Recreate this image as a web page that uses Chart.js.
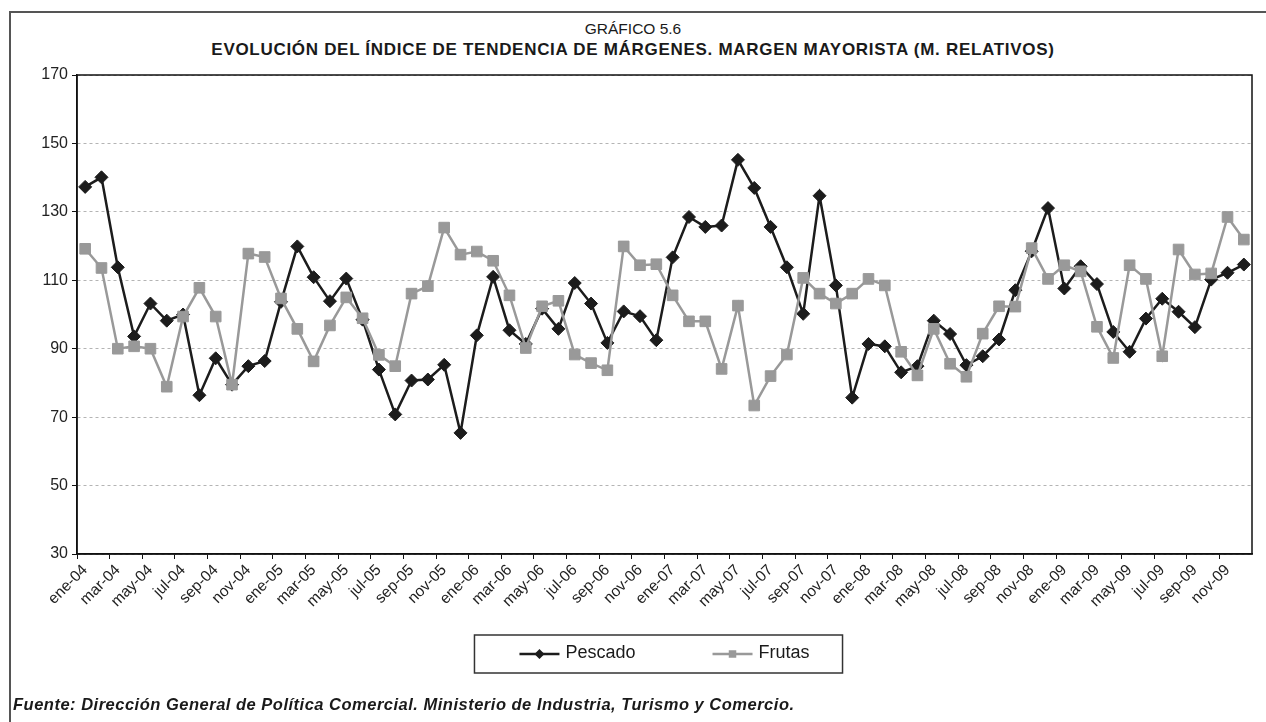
<!DOCTYPE html>
<html lang="es">
<head>
<meta charset="utf-8">
<title>Gráfico 5.6</title>
<script src="https://cdn.jsdelivr.net/npm/chart.js@4.4.1/dist/chart.umd.min.js"></script>
<style>
  html, body { margin: 0; padding: 0; background: #fff; }
  body { width: 1266px; height: 722px; position: relative; overflow: hidden; font-family: "Liberation Sans", Arial, sans-serif; color: #1a1a1a; }
  .marco { position: absolute; left: 9px; top: 11px; width: 1400px; height: 900px; border-left: 2px solid #555; border-top: 2px solid #555; }
  .grafico { position: absolute; top: 20px; left: 0; width: 1266px; text-align: center; font-size: 15.5px; }
  .titulo { position: absolute; top: 40px; left: 0; width: 1266px; text-align: center; font-size: 17px; font-weight: bold; letter-spacing: 0.7px; }
  .fuente { position: absolute; left: 13px; top: 695px; font-size: 16.5px; font-weight: bold; font-style: italic; letter-spacing: 0.5px; }
  #wrap { position: absolute; left: 0; top: 0; width: 1266px; height: 722px; }
</style>
</head>
<body>
<div class="marco"></div>
<div class="grafico">GRÁFICO 5.6</div>
<div class="titulo">EVOLUCIÓN DEL ÍNDICE DE TENDENCIA DE MÁRGENES. MARGEN MAYORISTA (M. RELATIVOS)</div>
<div id="wrap"><canvas id="grafico"></canvas></div>
<div class="fuente">Fuente: Dirección General de Política Comercial. Ministerio de Industria, Turismo y Comercio.</div>
<script>
// meses y años del eje horizontal
const meses = ["ene", "feb", "mar", "abr", "may", "jun", "jul", "ago", "sep", "oct", "nov", "dic"];
const anios = ["04", "05", "06", "07", "08", "09"];

// valores (ene-04 a dic-09)
const pescado = [
	137.3, 140.1, 113.8, 93.6, 103.2, 98.2, 100, 76.4, 87.2, 79.5, 84.9, 86.4,
	103.7, 119.9, 110.9, 103.9, 110.5, 98.5, 83.9, 70.8, 80.7, 81, 85.3, 65.4,
	93.9, 111, 95.4, 91.4, 101.7, 95.8, 109.2, 103.2, 91.7, 100.9, 99.5, 92.5,
	116.7, 128.5, 125.6, 126, 145.2, 137, 125.6, 113.8, 100.2, 134.7, 108.5, 75.7,
	91.4, 90.7, 83.1, 84.9, 98.2, 94.3, 85.2, 87.8, 92.7, 107.1, 118.5, 131.1,
	107.6, 114.1, 108.9, 94.9, 89.1, 98.8, 104.6, 100.8, 96.3, 110.2, 112.2, 114.6
];
const frutas = [
	119.2, 113.6, 90, 90.7, 90, 78.9, 99.4, 107.8, 99.4, 79.5, 117.8, 116.8,
	104.7, 95.8, 86.3, 96.8, 105, 98.9, 88.2, 84.9, 106.1, 108.3, 125.4, 117.5,
	118.4, 115.7, 105.6, 90.2, 102.4, 104, 88.3, 85.8, 83.7, 119.9, 114.4, 114.7,
	105.6, 98, 98, 84.1, 102.6, 73.4, 82, 88.3, 110.7, 106.1, 103.2, 106.1,
	110.4, 108.5, 89.1, 82.2, 95.8, 85.6, 81.8, 94.4, 102.4, 102.3, 119.4, 110.4,
	114.4, 112.6, 96.4, 87.3, 114.4, 110.4, 87.8, 119, 111.7, 112, 128.5, 121.9
];
const ejeY = { min: 30, max: 170, paso: 20 };

const categorias = [];
anios.forEach(a => meses.forEach(m => categorias.push(m + "-" + a)));

const fuente = '"Liberation Sans", Arial, sans-serif';

// marco negro del área de trazado
const marcoArea = {
	id: "marcoArea",
	beforeDatasetsDraw(chart) {
		const { ctx, chartArea: a } = chart;
		ctx.save();
		ctx.strokeStyle = "#111";
		ctx.lineWidth = 1.5;
		ctx.strokeRect(a.left, a.top, a.right - a.left, a.bottom - a.top);
		ctx.restore();
	}
};

function marcador(ctx, estilo, x, y, r, color) {
	ctx.fillStyle = color;
	ctx.beginPath();
	if (estilo === "rectRot") {
		ctx.moveTo(x - r, y);
		ctx.lineTo(x, y - r);
		ctx.lineTo(x + r, y);
		ctx.lineTo(x, y + r);
	} else {
		ctx.rect(x - r * 0.75, y - r * 0.75, r * 1.5, r * 1.5);
	}
	ctx.closePath();
	ctx.fill();
}

// leyenda con caja, debajo del eje
const leyenda = {
	id: "leyenda",
	afterDraw(chart) {
		const ctx = chart.ctx;
		const a = chart.chartArea;
		const cx = (a.left + a.right) / 2;
		const y = 654;
		const largo = 40, hueco = 6, separa = 77;
		const series = chart.data.datasets;
		ctx.save();
		ctx.font = "18px " + fuente;
		const anchos = series.map(d => largo + hueco + ctx.measureText(d.label).width);
		const total = anchos.reduce((s, w) => s + w, 0) + separa * (series.length - 1);
		let x = cx - total / 2;
		ctx.strokeStyle = "#333";
		ctx.lineWidth = 1.5;
		ctx.strokeRect(x - 45, y - 19, total + 78, 38);
		series.forEach((d, i) => {
			ctx.strokeStyle = d.borderColor;
			ctx.lineWidth = 2.5;
			ctx.beginPath();
			ctx.moveTo(x, y);
			ctx.lineTo(x + largo, y);
			ctx.stroke();
			marcador(ctx, d.pointStyle, x + largo / 2, y, 5, d.borderColor);
			ctx.fillStyle = "#1a1a1a";
			ctx.textBaseline = "middle";
			ctx.textAlign = "left";
			ctx.fillText(d.label, x + largo + hueco, y - 1);
			x += anchos[i] + separa;
		});
		ctx.restore();
	}
};

document.addEventListener("DOMContentLoaded", function () {
	new Chart(document.getElementById("grafico").getContext("2d"), {
		type: "line",
		data: {
			labels: categorias,
			datasets: [
				{
					label: "Pescado",
					data: pescado,
					borderColor: "#1c1c1c",
					backgroundColor: "#1c1c1c",
					borderWidth: 2.5,
					pointStyle: "rectRot",
					pointRadius: 6.5,
					pointBorderWidth: 1,
					tension: 0,
					order: 2
				},
				{
					label: "Frutas",
					data: frutas,
					borderColor: "#999999",
					backgroundColor: "#999999",
					borderWidth: 2.5,
					pointStyle: "rect",
					pointRadius: 7.5,
					pointBorderWidth: 1,
					tension: 0,
					order: 1
				}
			]
		},
		options: {
			responsive: true,
			maintainAspectRatio: false,
			animation: false,
			layout: { padding: { left: 0, right: 14, top: 75, bottom: 0 } },
			plugins: {
				legend: { display: false },
				title: { display: false },
				tooltip: { enabled: false }
			},
			scales: {
				x: {
					offset: true,
					afterFit(scale) { scale.height = 168; },
					grid: {
						offset: true,
						drawOnChartArea: false,
						tickLength: 5,
						color: ctx => (ctx.index % 2 === 0 ? "#111" : "rgba(0,0,0,0)")
					},
					border: { color: "#111", width: 1.5 },
					ticks: {
						autoSkip: false,
						minRotation: 45,
						maxRotation: 45,
						padding: 2,
						color: "#222",
						font: { family: fuente, size: 15.5 },
						callback: function (valor, i) {
							return i % 2 === 0 ? this.getLabelForValue(valor) : "";
						}
					}
				},
				y: {
					min: ejeY.min,
					max: ejeY.max,
					afterFit(scale) { scale.width = 77; },
					grid: {
						color: "#b4b4b4",
						lineWidth: 1,
						tickLength: 5,
						tickColor: "#111"
					},
					border: { color: "#111", width: 1.5, dash: [3, 3] },
					ticks: {
						stepSize: ejeY.paso,
						padding: 4,
						color: "#222",
						font: { family: fuente, size: 16 }
					}
				}
			}
		},
		plugins: [marcoArea, leyenda]
	});
});
</script>
</body>
</html>
